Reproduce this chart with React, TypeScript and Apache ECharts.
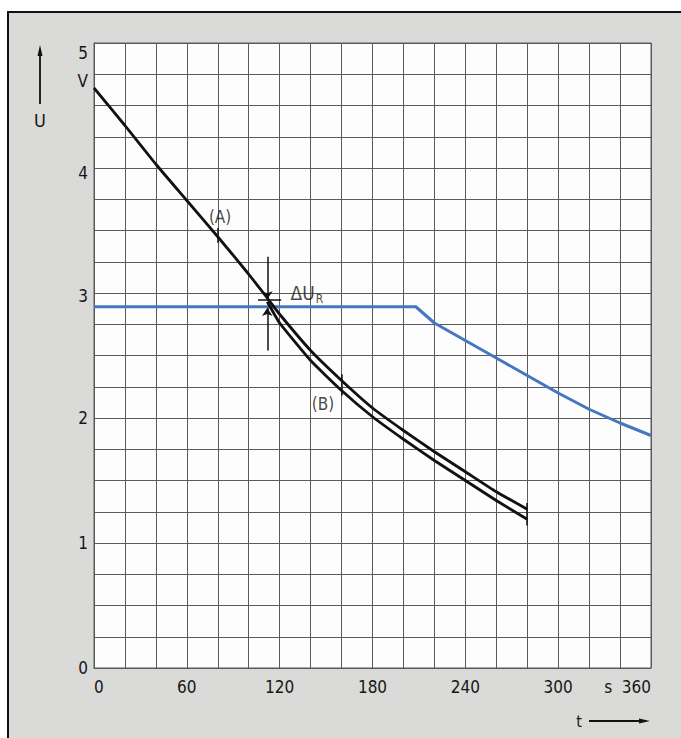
import React, { useEffect, useRef } from "react";
import * as echarts from "echarts";

// x axis: time t in s ; y axis: voltage U in V
const xTickLabels = [0, 60, 120, 180, 240, 300, 360];
const yTickLabels = [0, 1, 2, 3, 4, 5];

// curve (A)
const curveAT = [0, 20, 40, 60, 80, 100, 112, 120, 140, 160, 180, 200, 220, 240, 260, 280];
const curveAU = [4.64, 4.34, 4.03, 3.74, 3.45, 3.15, 2.96, 2.83, 2.54, 2.3, 2.08, 1.9, 1.73, 1.57, 1.41, 1.27];

// curve (B)
const curveBT = [112, 120, 140, 160, 180, 200, 220, 240, 260, 280];
const curveBU = [2.93, 2.76, 2.46, 2.22, 2.01, 1.83, 1.66, 1.5, 1.34, 1.19];

// blue reference curve
const refT = [0, 208, 220, 240, 260, 280, 300, 320, 340, 360];
const refU = [2.89, 2.89, 2.76, 2.62, 2.48, 2.34, 2.2, 2.07, 1.96, 1.86];

const FONT = "'DejaVu Sans Condensed', 'Liberation Sans Narrow', 'DejaVu Sans', sans-serif";
const INK = "#111111";
const TXT = "#161616";
const GRIDC = "#5a5a5a";

const zip = (a: number[], b: number[]) => a.map((v, i) => [v, b[i]]);

export default function App() {
  const ref = useRef<HTMLDivElement>(null);
  useEffect(() => {
    if (!ref.current) return;
    const chart = echarts.init(ref.current, null, { renderer: "svg" });
    const lineMk = (a: number[], b: number[], arrow: boolean) => [
      { coord: a, symbol: "none" },
      { coord: b, symbol: arrow ? "arrow" : "none" },
    ];
    const yl = { fontFamily: FONT, fontSize: 17, color: TXT };
    chart.setOption({
      animation: false,
      backgroundColor: "transparent",
      grid: {
        left: 94,
        top: 43,
        width: 557,
        height: 625,
        show: true,
        backgroundColor: "#fdfdfd",
        borderColor: GRIDC,
        borderWidth: 1,
        outerBoundsMode: "none",
      },
      xAxis: {
        type: "value",
        min: 0,
        max: 360,
        interval: 20,
        axisLine: { show: true, lineStyle: { color: GRIDC, width: 1 } },
        axisTick: { show: false },
        splitLine: { show: true, lineStyle: { color: GRIDC, width: 1 } },
        axisLabel: {
          margin: 10,
          fontFamily: FONT,
          fontSize: 17,
          color: TXT,
          alignMinLabel: "left",
          alignMaxLabel: "right",
          formatter: (v: number) => {
            if (!xTickLabels.includes(v)) return "";
            return v === 360 ? "s  360" : String(v);
          },
        },
      },
      yAxis: {
        type: "value",
        min: 0,
        max: 5,
        interval: 0.25,
        axisLine: { show: true, lineStyle: { color: GRIDC, width: 1 } },
        axisTick: { show: false },
        splitLine: { show: true, lineStyle: { color: GRIDC, width: 1 } },
        axisLabel: {
          margin: 6,
          fontFamily: FONT,
          fontSize: 17,
          color: TXT,
          rich: {
            p20: { ...yl, padding: [20, 0, 0, 0] },
            p14: { ...yl, padding: [14, 0, 0, 0] },
            p10: { ...yl, padding: [10, 0, 0, 0] },
            p6: { ...yl, padding: [6, 0, 0, 0] },
          },
          formatter: (v: number) => {
            if (v === 4.75) return "{p14|V}";
            if (!yTickLabels.includes(v)) return "";
            if (v === 5) return "{p20|5}";
            if (v === 4) return "{p10|4}";
            if (v === 3) return "{p6|3}";
            return String(v);
          },
        },
      },
      series: [
        {
          type: "line",
          name: "ref",
          data: zip(refT, refU),
          showSymbol: false,
          lineStyle: { color: "#4677be", width: 3 },
          z: 3,
          markLine: {
            silent: true,
            symbolSize: 8,
            label: { show: false },
            lineStyle: { color: INK, width: 1.5, type: "solid" },
            data: [
              lineMk([112, 3.29], [112, 2.95], true),
              lineMk([106, 2.95], [121, 2.95], false),
              lineMk([112, 2.54], [112, 2.88], true),
              lineMk([80, 3.52], [80, 3.4], false),
              lineMk([160, 2.35], [160, 2.18], false),
              lineMk([280, 1.14], [280, 1.32], false),
            ],
          },
        },
        {
          type: "line",
          name: "A",
          data: zip(curveAT, curveAU),
          showSymbol: false,
          smooth: 0.15,
          lineStyle: { color: INK, width: 2.8 },
          z: 4,
        },
        {
          type: "line",
          name: "B",
          data: zip(curveBT, curveBU),
          showSymbol: false,
          smooth: 0.15,
          lineStyle: { color: INK, width: 2.8 },
          z: 4,
        },
        {
          type: "scatter",
          name: "labels",
          symbolSize: 0,
          silent: true,
          data: [
            { value: [81.5, 3.61], label: { formatter: "(A)" } },
            { value: [148, 2.11], label: { formatter: "(B)" } },
            {
              value: [127, 3.0],
              label: {
                formatter: "{a|ΔU}{s|R}",
                align: "left",
                rich: {
                  a: { fontFamily: FONT, fontSize: 19, color: TXT },
                  s: { fontFamily: FONT, fontSize: 12, color: TXT, padding: [12, 0, 0, 1] },
                },
              },
            },
          ],
          label: {
            show: true,
            position: "inside",
            fontFamily: FONT,
            fontSize: 17,
            color: TXT,
          },
          z: 5,
        },
      ],
      graphic: [
        // U arrow
        { type: "line", shape: { x1: 40, y1: 104, x2: 40, y2: 50 }, style: { stroke: INK, lineWidth: 1.8 } },
        { type: "polygon", shape: { points: [[40, 45], [37.5, 56], [42.5, 56]] }, style: { fill: INK } },
        { type: "text", x: 40, y: 120, style: { text: "U", fontFamily: FONT, fontSize: 18, fill: TXT, align: "center", verticalAlign: "middle" } },
        // t arrow
        { type: "text", x: 579, y: 721, style: { text: "t", fontFamily: FONT, fontSize: 16, fill: TXT, align: "center", verticalAlign: "middle" } },
        { type: "line", shape: { x1: 589, y1: 721, x2: 644, y2: 721 }, style: { stroke: INK, lineWidth: 1.8 } },
        { type: "polygon", shape: { points: [[650, 721], [639, 718.5], [639, 723.5]] }, style: { fill: INK } },
      ],
    });
    return () => chart.dispose();
  }, []);

  return (
    <div style={{ position: "fixed", left: 0, top: 0, width: 681, height: 738, background: "#ffffff", overflow: "hidden" }}>
      <div
        style={{
          position: "absolute",
          left: 7,
          top: 11,
          right: 0,
          bottom: 0,
          background: "#dadad8",
          borderLeft: "2px solid #111",
          borderTop: "2px solid #111",
        }}
      />
      <div ref={ref} style={{ position: "absolute", left: 0, top: 0, width: 681, height: 738 }} />
    </div>
  );
}
